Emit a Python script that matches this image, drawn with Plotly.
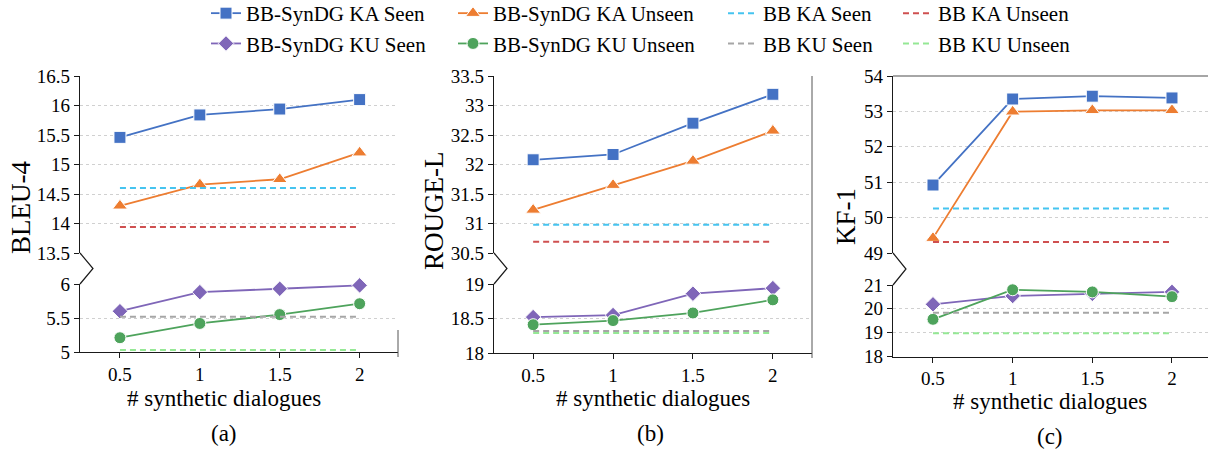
import plotly.graph_objects as go

W, H = 1208, 450

x_vals = [0.5, 1, 1.5, 2]
x_labels = ["0.5", "1", "1.5", "2"]

# Panel (a) BLEU-4
a_ka_seen = [15.46, 15.84, 15.94, 16.10]
a_ka_unseen = [14.30, 14.66, 14.75, 15.20]
a_bb_ka_seen = [14.60, 14.60, 14.60, 14.60]
a_bb_ka_unseen = [13.94, 13.94, 13.94, 13.94]
a_ku_seen = [5.60, 5.88, 5.93, 5.98]
a_ku_unseen = [5.21, 5.42, 5.55, 5.71]
a_bb_ku_seen = [5.52, 5.52, 5.52, 5.52]
a_bb_ku_unseen = [5.03, 5.03, 5.03, 5.03]

# Panel (b) ROUGE-L
b_ka_seen = [32.08, 32.17, 32.70, 33.19]
b_ka_unseen = [31.23, 31.65, 32.06, 32.57]
b_bb_ka_seen = [30.98, 30.98, 30.98, 30.98]
b_bb_ka_unseen = [30.69, 30.69, 30.69, 30.69]
b_ku_seen = [18.52, 18.55, 18.86, 18.94]
b_ku_unseen = [18.41, 18.47, 18.58, 18.77]
b_bb_ku_seen = [18.32, 18.32, 18.32, 18.32]
b_bb_ku_unseen = [18.29, 18.29, 18.29, 18.29]

# Panel (c) KF-1
c_ka_seen = [50.92, 53.35, 53.43, 53.38]
c_ka_unseen = [49.42, 52.99, 53.03, 53.03]
c_bb_ka_seen = [50.26, 50.26, 50.26, 50.26]
c_bb_ka_unseen = [49.31, 49.31, 49.31, 49.31]
c_ku_seen = [20.19, 20.54, 20.63, 20.71]
c_ku_unseen = [19.56, 20.80, 20.71, 20.51]
c_bb_ku_seen = [19.84, 19.84, 19.84, 19.84]
c_bb_ku_unseen = [18.98, 18.98, 18.98, 18.98]

names = ["BB-SynDG KA Seen", "BB-SynDG KA Unseen", "BB KA Seen", "BB KA Unseen",
         "BB-SynDG KU Seen", "BB-SynDG KU Unseen", "BB KU Seen", "BB KU Unseen"]
colors = ["#4472C4", "#ED7D31", "#45C4F0", "#CF5050",
          "#7F66B8", "#4EA35C", "#A6A6A6", "#95E895"]
symbols = ["square", "triangle-up", None, None, "diamond", "circle", None, None]
legends = ["legend", "legend2", "legend3", "legend4",
           "legend", "legend2", "legend3", "legend4"]

panels = [
    dict(x="x", yu="y", yl="y2",
         data=[a_ka_seen, a_ka_unseen, a_bb_ka_seen, a_bb_ka_unseen,
               a_ku_seen, a_ku_unseen, a_bb_ku_seen, a_bb_ku_unseen]),
    dict(x="x2", yu="y3", yl="y4",
         data=[b_ka_seen, b_ka_unseen, b_bb_ka_seen, b_bb_ka_unseen,
               b_ku_seen, b_ku_unseen, b_bb_ku_seen, b_bb_ku_unseen]),
    dict(x="x3", yu="y5", yl="y6",
         data=[c_ka_seen, c_ka_unseen, c_bb_ka_seen, c_bb_ka_unseen,
               c_ku_seen, c_ku_unseen, c_bb_ku_seen, c_bb_ku_unseen]),
]


def px(x):
    return x / W


def py(y):
    return 1 - y / H


fig = go.Figure()

for pi, p in enumerate(panels):
    for i in range(8):
        upper = i < 4
        yax = p["yu"] if upper else p["yl"]
        dashed = symbols[i] is None
        tr = dict(
            x=x_vals, y=p["data"][i], name=names[i], xaxis=p["x"], yaxis=yax,
            legendgroup=names[i], showlegend=(pi == 0), legend=legends[i],
            line=dict(color=colors[i], width=2 if dashed else 1.8,
                      dash="6px,4px" if dashed else "solid"),
            cliponaxis=False,
        )
        if dashed:
            tr["mode"] = "lines"
        else:
            tr["mode"] = "lines+markers"
            tr["marker"] = dict(symbol=symbols[i], size=12 if symbols[i] != "triangle-up" else 13,
                                color=colors[i], line=dict(color="white", width=1))
        fig.add_trace(go.Scatter(**tr))

font_family = "Liberation Serif"

# geometry (pixels)
geo = [
    dict(x0=80, x1=398, xr=[0.25, 2.24], up=(76, 253), lo=(284, 352),
         ur=[13.5, 16.5], lr=[5, 6], ud=0.5, ld=0.5),
    dict(x0=494, x1=812, xr=[0.255, 2.245], up=(76, 253), lo=(284, 353),
         ur=[30.5, 33.5], lr=[18, 19], ud=0.5, ld=0.5),
    dict(x0=893, x1=1208, xr=[0.249, 2.226], up=(76, 253), lo=(285, 356.5),
         ur=[49, 54], lr=[18, 21], ud=1, ld=1),
]

axis_col = "#1a1a1a"
grid_col = "#d0d0d0"
tick_font = dict(family=font_family, size=19, color="#000")

layout = {}
for k, g in enumerate(geo):
    xn = "xaxis" if k == 0 else f"xaxis{k+1}"
    yu_n = f"yaxis{2*k+1}" if k > 0 else "yaxis"
    yl_n = f"yaxis{2*k+2}"
    yl_ref = f"y{2*k+2}"
    layout[xn] = dict(
        domain=[px(g["x0"]), px(g["x1"])], range=g["xr"], anchor=yl_ref,
        tickvals=x_vals, ticktext=x_labels, showgrid=False, zeroline=False,
        showline=True, linecolor=axis_col, linewidth=1.2, ticks="outside",
        ticklen=5, tickcolor=axis_col, tickfont=tick_font,
    )
    xref = "x" if k == 0 else f"x{k+1}"
    layout[yu_n] = dict(
        domain=[py(g["up"][1]), py(g["up"][0])], range=g["ur"], anchor=xref,
        dtick=g["ud"], tick0=0, showgrid=True, gridcolor=grid_col, griddash="dot",
        gridwidth=1, zeroline=False, showline=True, linecolor=axis_col,
        linewidth=1.2, ticks="outside", ticklen=5, tickcolor=axis_col,
        tickfont=tick_font,
    )
    layout[yl_n] = dict(
        domain=[py(g["lo"][1]), py(g["lo"][0])], range=g["lr"], anchor=xref,
        dtick=g["ld"], tick0=0, showgrid=True, gridcolor=grid_col, griddash="dot",
        gridwidth=1, zeroline=False, showline=True, linecolor=axis_col,
        linewidth=1.2, ticks="outside", ticklen=5, tickcolor=axis_col,
        tickfont=tick_font,
    )

shapes = []
for g in geo:
    x0 = g["x0"]
    yt = g["up"][1]
    yb = g["lo"][0]
    ym = (yt + yb) / 2
    path = f"M {px(x0)},{py(yt)} L {px(x0 + 13)},{py(ym)} L {px(x0)},{py(yb)}"
    shapes.append(dict(type="path", xref="paper", yref="paper", path=path,
                       line=dict(color=axis_col, width=1.2)))

# frame lines
shapes.append(dict(type="line", xref="paper", yref="paper", x0=px(398), x1=px(398),
                   y0=py(357), y1=py(330), line=dict(color="#555", width=1)))
shapes.append(dict(type="line", xref="paper", yref="paper", x0=px(812), x1=px(812),
                   y0=py(358), y1=py(76), line=dict(color="#555", width=1)))
shapes.append(dict(type="line", xref="paper", yref="paper", x0=px(893), x1=px(1208),
                   y0=py(76), y1=py(76), line=dict(color="#888", width=1.5)))

annotations = []
ylabels = [("BLEU-4", 21, 208), ("ROUGE-L", 434, 211), ("KF-1", 846, 217)]
for t, x, y in ylabels:
    annotations.append(dict(text=t, x=px(x), y=py(y), xref="paper", yref="paper",
                            showarrow=False, textangle=-90,
                            font=dict(family=font_family, size=27, color="#000"),
                            xanchor="center", yanchor="middle"))
for (cx_title, cx_lab), lab, yy in zip([(224, 224), (653, 650), (1050, 1050)],
                                       ["(a)", "(b)", "(c)"], [0, 0, 3]):
    annotations.append(dict(text="# synthetic dialogues", x=px(cx_title), y=py(398 + yy),
                            xref="paper", yref="paper", showarrow=False,
                            font=dict(family=font_family, size=23, color="#000"),
                            xanchor="center", yanchor="middle"))
    annotations.append(dict(text=lab, x=px(cx_lab), y=py(433 + yy),
                            xref="paper", yref="paper", showarrow=False,
                            font=dict(family=font_family, size=23, color="#000"),
                            xanchor="center", yanchor="middle"))

leg_font = dict(family=font_family, size=21, color="#000")
leg_common = dict(orientation="v", yanchor="top", y=1 + 7 / H, font=leg_font,
                  bgcolor="rgba(0,0,0,0)", tracegroupgap=0, itemwidth=30)
layout["legend"] = dict(x=px(206), **leg_common)
layout["legend2"] = dict(x=px(453), **leg_common)
layout["legend3"] = dict(x=px(723), **leg_common)
layout["legend4"] = dict(x=px(898), **leg_common)

fig.update_layout(
    width=W, height=H, margin=dict(l=0, r=0, t=0, b=0, autoexpand=False),
    paper_bgcolor="white", plot_bgcolor="white",
    font=dict(family=font_family, color="#000"),
    shapes=shapes, annotations=annotations, **layout,
)

fig.write_html("out.html", config={"displayModeBar": False},
               post_script="document.body.style.margin='0';document.body.style.overflow='hidden';")
